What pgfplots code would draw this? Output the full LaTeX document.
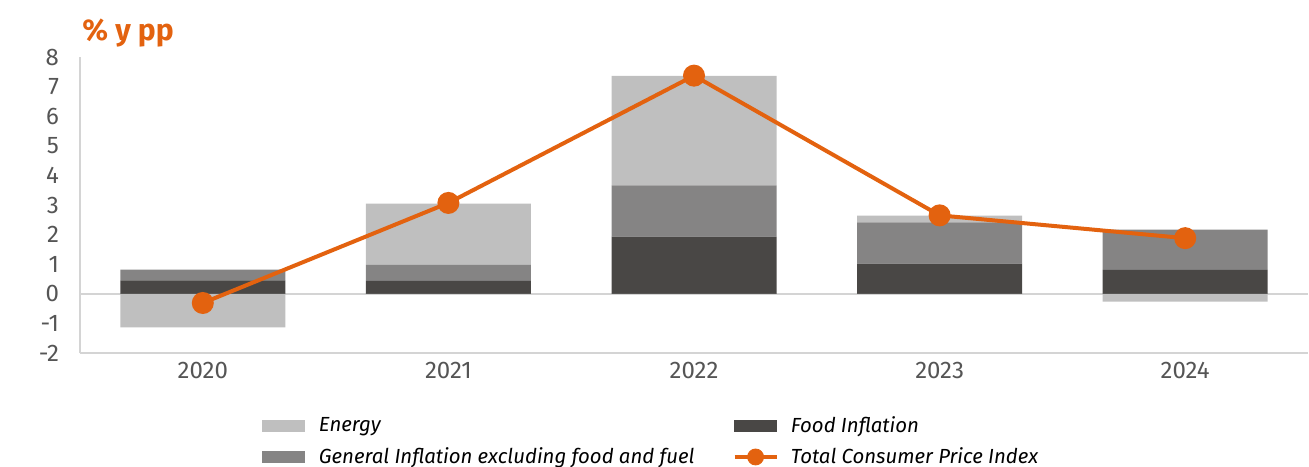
\documentclass[border=0pt]{standalone}
\usepackage{fontspec}
\setmainfont{Fira Sans}
\usepackage{pgfplots}
\pgfplotsset{compat=1.18}
\definecolor{energy}{HTML}{BFBFBF}
\definecolor{general}{HTML}{858484}
\definecolor{food}{HTML}{494745}
\definecolor{cpi}{HTML}{E3620F}
\definecolor{ticktext}{HTML}{555555}
\definecolor{axisgray}{HTML}{D4D4D4}
\pgfplotsset{base/.style={
  scale only axis, width=614pt, height=148pt,
  xmin=-0.5, xmax=4.5, ymin=-2, ymax=8,
  at={(40pt,-176.5pt)}, anchor=south west,
}}
\begin{document}
\begin{tikzpicture}
\begin{axis}[base,
  ybar stacked, bar width=82.5pt,
  axis x line*=bottom, axis y line*=left,
  axis line style={axisgray, line width=1pt},
  major tick length=0pt,
  xtick={0,1,2,3,4}, xticklabels={2020,2021,2022,2023,2024},
  ytick={-2,-1,0,1,2,3,4,5,6,7,8},
  /pgf/number format/assume math mode=true,
  tick label style={font=\fontsize{12}{14}\selectfont, text=ticktext},
  yticklabel style={xshift=-7pt},
  xticklabel style={yshift=-1pt},
  extra y ticks={0}, extra y tick labels={},
  extra y tick style={grid=major, grid style={axisgray, line width=0.8pt}},
]
\addplot[fill=food, draw=none] coordinates {(0,0.45) (1,0.44) (2,1.93) (3,1.02) (4,0.81)};
\addplot[fill=general, draw=none] coordinates {(0,0.37) (1,0.54) (2,1.73) (3,1.39) (4,1.36)};
\addplot[fill=energy, draw=none] coordinates {(0,0) (1,2.07) (2,3.70) (3,0.23) (4,0)};
\end{axis}
\begin{axis}[base, hide axis,
  legend columns=2,
  legend cell align=left,
  legend style={at={(0.148,-0.2)}, anchor=north west, draw=none, fill=none,
    inner sep=0pt,
    font=\itshape\fontsize{10.2}{12}\selectfont,
    /tikz/every even column/.append style={column sep=17pt},
    row sep=2pt},
]
\addplot[ybar, bar width=82.5pt, fill=energy, draw=none, forget plot] coordinates {(0,-1.13) (1,0) (2,0) (3,0) (4,-0.26)};
\addplot[cpi, line width=2pt, mark=*, mark size=5pt, mark options={fill=cpi, draw=cpi, line width=1pt}, forget plot] coordinates {(0,-0.31) (1,3.07) (2,7.37) (3,2.65) (4,1.88)};
\addlegendimage{legend image code/.code={\fill[energy] (0pt,-2.75pt) rectangle (21pt,2.75pt); \path (26pt,0pt);}}
\addlegendentry{Energy}
\addlegendimage{legend image code/.code={\fill[food] (0pt,-2.75pt) rectangle (21pt,2.75pt); \path (26pt,0pt);}}
\addlegendentry{Food Inflation}
\addlegendimage{legend image code/.code={\fill[general] (0pt,-2.75pt) rectangle (21pt,2.75pt); \path (26pt,0pt);}}
\addlegendentry{General Inflation excluding food and fuel}
\addlegendimage{legend image code/.code={\draw[cpi, line width=2pt] (0pt,0pt) -- (21pt,0pt); \fill[cpi] (10.5pt,0pt) circle (4pt); \path (26pt,0pt);}}
\addlegendentry{Total Consumer Price Index}
\end{axis}
\node[anchor=base west, inner sep=0pt, text=cpi, font=\bfseries\fontsize{15}{18}\selectfont] at (41pt,-20pt) {\% y pp};
\pgfresetboundingbox
\useasboundingbox (0,0) rectangle (654.5pt,-233pt);
\end{tikzpicture}
\end{document}
